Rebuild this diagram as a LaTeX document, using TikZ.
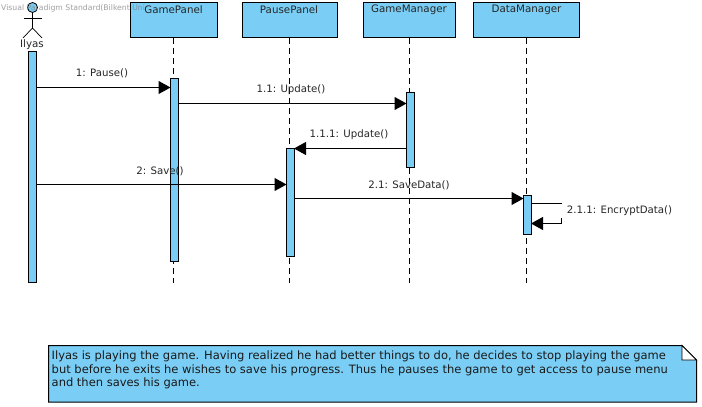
\documentclass[tikz,border=0pt]{standalone}
\usepackage{fontspec}
\setmainfont{DejaVu Sans}
\usetikzlibrary{arrows.meta}
\definecolor{umlblue}{RGB}{122,206,245}
\tikzset{
  head/.style={draw=black,line width=1pt,fill=umlblue,inner sep=0pt,outer sep=0pt,anchor=north west},
  headlabel/.style={font=\fontsize{10.3}{12}\selectfont,text=black!85,inner sep=0pt},
  life/.style={draw=black,line width=1pt,dash pattern=on 6pt off 4pt},
  act/.style={draw=black,line width=0.9pt,fill=umlblue,inner sep=0pt,outer sep=0pt,anchor=north west},
  msg/.style={draw=black,line width=1pt,-{Triangle[length=12pt,width=13pt]}},
  lbl/.style={font=\fontsize{10.2}{12}\selectfont,text=black!85,inner sep=0pt},
  stick/.style={draw=black,line width=0.7pt}
}
\begin{document}
\begin{tikzpicture}[x=1pt,y=-1pt]
\useasboundingbox (0,0) rectangle (702,407);
\fill[white] (0,0) rectangle (702,407);
% lifeline heads
\node[head,minimum width=87pt,minimum height=35pt] (gp) at (130.5,2.5) {};
\node[head,minimum width=95pt,minimum height=35pt] (pp) at (242.5,2.5) {};
\node[head,minimum width=92pt,minimum height=35pt] (gm) at (363.5,2.5) {};
\node[head,minimum width=106pt,minimum height=35pt] (dm) at (473.5,2.5) {};
\node[headlabel] (gpl) at (173.5,9.5) {GamePanel};
\node[headlabel] (ppl) at (289,9.5) {PausePanel};
\node[headlabel] (gml) at (409,9.5) {GameManager};
\node[headlabel] (dml) at (526.5,9.5) {DataManager};
% free lifeline ends
\coordinate (gpe) at (173,283);
\coordinate (ppe) at (289.5,283);
\coordinate (gme) at (409.5,283);
\coordinate (dme) at (526.5,283);
\draw[life] (gp.south -| gpe) -- (gpe);
\draw[life] (pp.south -| ppe) -- (ppe);
\draw[life] (gm.south -| gme) -- (gme);
\draw[life] (dm.south -| dme) -- (dme);
% actor
\node[circle,draw=black,line width=0.8pt,fill=umlblue,minimum size=10pt,inner sep=0pt] (head) at (32.5,7.5) {};
\coordinate (hip) at (32.5,28);
\coordinate (armL) at (24,18);
\coordinate (armR) at (42,18);
\coordinate (legL) at (23,38);
\coordinate (legR) at (42,38);
\draw[stick] (head.south) -- (hip);
\draw[stick] (armL) -- (armR);
\draw[stick] (legL) -- (hip) -- (legR);
\node[headlabel] (ilyas) at (32,44.5) {Ilyas};
% activations
\node[act,minimum width=7.5pt,minimum height=231pt] (ai) at (28.5,51.5) {};
\node[act,minimum width=7.5pt,minimum height=183pt] (ag) at (170.5,78.5) {};
\node[act,minimum width=7.5pt,minimum height=75pt] (am) at (406.5,92.5) {};
\node[act,minimum width=7.5pt,minimum height=108pt] (ap) at (286.5,148.5) {};
\node[act,minimum width=7.5pt,minimum height=39pt] (ad) at (523.5,195.5) {};
% messages
\draw[msg] (ai.east |- 0,87.5) -- (ag.west |- 0,87.5);
\draw[msg] (ag.east |- 0,103.5) -- (am.west |- 0,103.5);
\draw[msg] (am.west |- 0,148.5) -- (ap.east |- 0,148.5);
\draw[msg] (ai.east |- 0,184.5) -- (ap.west |- 0,184.5);
\draw[msg] (ap.east |- 0,198.5) -- (ad.west |- 0,198.5);
\coordinate (sa) at (561,203.5);
\coordinate (sb) at (561,223.5);
\draw[msg] (ad.east |- sa) -- (sa) -- (sb) -- (ad.east |- sb);
% message labels
\node[lbl] (l1) at (102,73) {1: Pause()};
\node[lbl] (l11) at (291,90) {1.1: Update()};
\node[lbl] (l111) at (349,135) {1.1.1: Update()};
\node[lbl] (l2) at (160,171) {2: Save()};
\node[lbl] (l21) at (409,185) {2.1: SaveData()};
\node[lbl,fill=white,inner xsep=6pt,inner ysep=1pt,minimum height=14pt] (l211) at (619.5,211) {2.1.1: EncryptData()};
% note
\coordinate (nA) at (48.5,345.5);
\coordinate (nB) at (682,345.5);
\coordinate (nC) at (696.5,360);
\coordinate (nD) at (696.5,402);
\coordinate (nE) at (48.5,402);
\coordinate (nF) at (682,360);
\draw[draw=black,line width=1pt,fill=umlblue] (nA) -- (nB) -- (nC) -- (nD) -- (nE) -- cycle;
\draw[draw=black,line width=0.8pt,fill=white] (nB) -- (nC) -- (nF) -- cycle;
\node[anchor=north west,align=left,inner sep=0pt,font=\fontsize{11.5}{13.5}\selectfont,text=black!90] (note) at (51.5,351) {Ilyas is playing the game. Having realized he had better things to do, he decides to stop playing the game\\but before he exits he wishes to save his progress. Thus he pauses the game to get access to pause menu\\and then saves his game.};
% watermark
\node[anchor=west,inner sep=0pt,font=\fontsize{7.7}{9}\selectfont,text=gray,opacity=0.75] (wm) at (1,8) {Visual Paradigm Standard(Bilkent Uni};
\end{tikzpicture}
\end{document}
